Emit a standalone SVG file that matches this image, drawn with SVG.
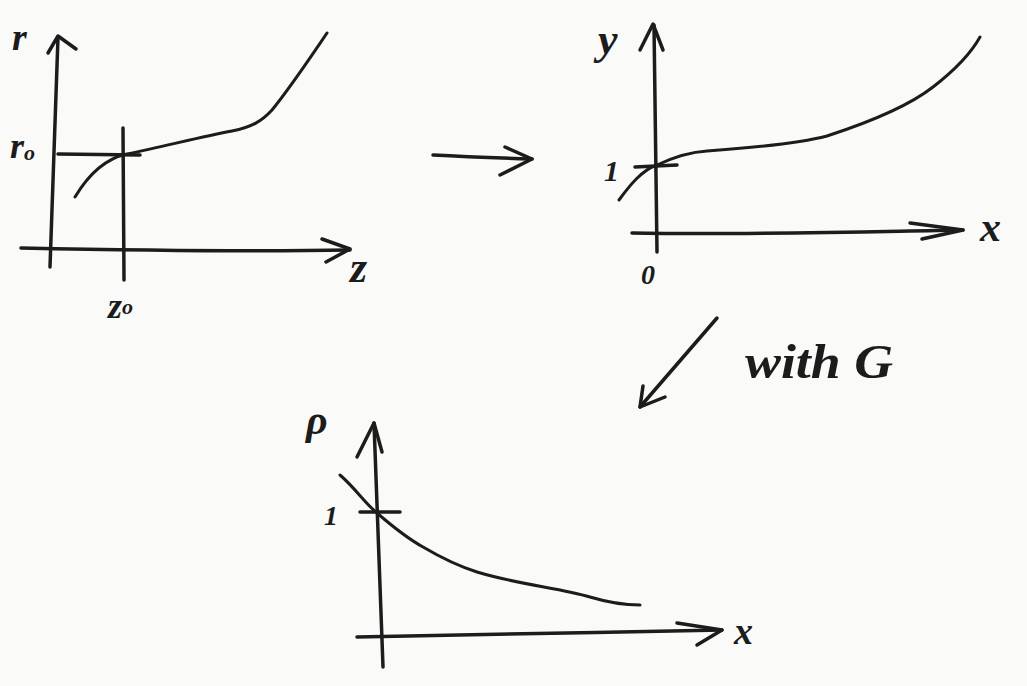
<svg xmlns="http://www.w3.org/2000/svg" width="1027" height="686" viewBox="0 0 1027 686">
<style>
.ln{fill:none;stroke:#1c1c1c;stroke-width:3.5;stroke-linecap:round;stroke-linejoin:round}
.cv{fill:none;stroke:#1c1c1c;stroke-width:3;stroke-linecap:round;stroke-linejoin:round}
.lb{font-family:"Liberation Serif",serif;font-style:italic;font-weight:bold;fill:#1c1c1c}
</style>
<rect width="1027" height="686" fill="#fafaf8"/>
<g id="plot-rz">
<path class="ln" d="M50,267 L58,37"/>
<path class="ln" d="M48,53 L58,36 L76,49"/>
<path class="ln" d="M21,248 C120,250 250,252 350,250"/>
<path class="ln" d="M322,239 L350,249 L326,262"/>
<path class="ln" d="M123,128 L124,280"/>
<path class="ln" d="M58,154 L140,155"/>
<path class="cv" d="M75,197 C90,172 108,158 127,154 C165,146 205,136 232,131 C252,127 262,121 272,110 C290,88 310,58 327,33"/>
<text class="lb" x="12" y="50" font-size="38">r</text>
<text class="lb" x="10" y="158" font-size="36">r<tspan font-size="22" dy="2">o</tspan></text>
<text class="lb" x="350" y="282" font-size="44">z</text>
<text class="lb" x="108" y="318" font-size="36">z<tspan font-size="22" dy="-4">o</tspan></text>
</g>
<g id="plot-yx">
<path class="ln" d="M657,252 L654,25"/>
<path class="ln" d="M640,50 L653,24 L663,50"/>
<path class="ln" d="M632,233 C750,235 850,232 963,230"/>
<path class="ln" d="M910,223 L963,230 L922,239"/>
<path class="ln" d="M635,167 L677,165"/>
<path class="cv" d="M619,200 C630,185 642,170 657,165 C672,158 690,152 707,151 C750,148 800,143 827,136 C870,122 910,105 933,87 C955,70 970,55 980,37"/>
<text class="lb" x="598" y="54" font-size="44">y</text>
<text class="lb" x="604" y="181" font-size="30">1</text>
<text class="lb" x="641" y="284" font-size="28">0</text>
<text class="lb" x="980" y="241" font-size="42">x</text>
</g>
<g id="plot-px">
<path class="ln" d="M383,667 L374,423"/>
<path class="ln" d="M357,457 L374,423 L382,452"/>
<path class="ln" d="M357,637 C450,636 600,632 722,630"/>
<path class="ln" d="M677,623 L722,630 L697,645"/>
<path class="ln" d="M360,512 L400,512"/>
<path class="cv" d="M340,475 C355,488 365,503 377,513 C392,526 405,537 423,547 C440,557 458,566 477,572 C520,585 560,588 590,597 C610,603 625,605 640,605"/>
<text class="lb" x="306" y="434" font-size="42">ρ</text>
<text class="lb" x="324" y="525" font-size="28">1</text>
<text class="lb" x="734" y="644" font-size="38">x</text>
</g>
<g id="connectors">
<path class="ln" d="M433,155 C470,157 500,158 532,159"/>
<path class="ln" d="M505,147 L532,159 L500,175"/>
<path class="ln" d="M717,318 L640,407"/>
<path class="ln" d="M643,386 L640,407 L665,397"/>
<text class="lb" x="745" y="378" font-size="48" textLength="148" lengthAdjust="spacingAndGlyphs">with G</text>
</g>
</svg>
